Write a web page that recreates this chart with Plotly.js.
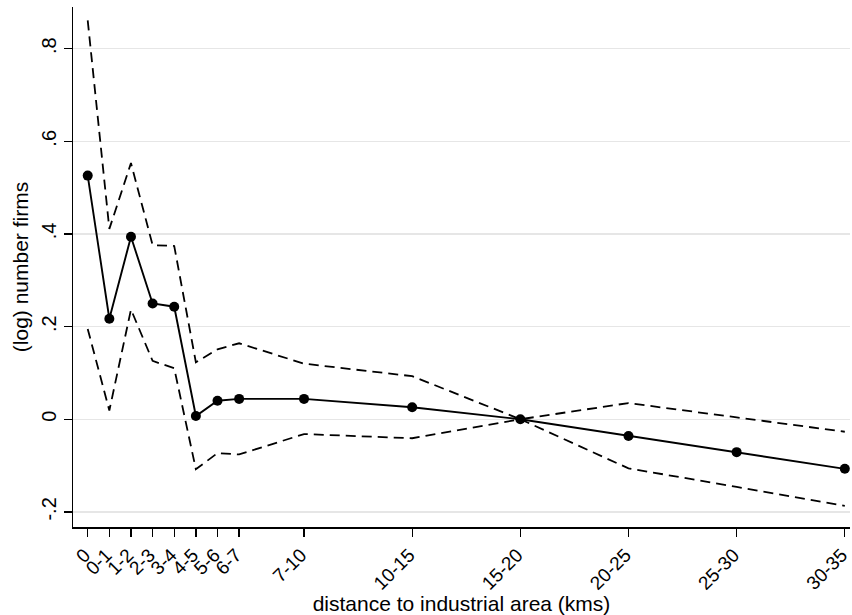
<!DOCTYPE html>
<html>
<head>
<meta charset="utf-8">
<script src="https://cdn.plot.ly/plotly-3.0.1.min.js"></script>
<style>html,body{margin:0;padding:0;background:#fff;}#chart{width:852px;height:615px;}</style>
</head>
<body>
<div id="chart"></div>
<script>
const xPos = [0, 1, 2, 3, 4, 5, 6, 7, 10, 15, 20, 25, 30, 35];
const tickLabels = ["0", "0-1", "1-2", "2-3", "3-4", "4-5", "5-6", "6-7", "7-10", "10-15", "15-20", "20-25", "25-30", "30-35"];
const estimate = [0.526, 0.217, 0.394, 0.250, 0.243, 0.007, 0.040, 0.044, 0.044, 0.026, 0.0, -0.036, -0.071, -0.107];
const upperCI = [0.861, 0.411, 0.553, 0.376, 0.374, 0.123, 0.151, 0.164, 0.120, 0.093, 0.0, 0.035, 0.004, -0.027];
const lowerCI = [0.195, 0.019, 0.237, 0.126, 0.110, -0.108, -0.073, -0.076, -0.032, -0.041, 0.0, -0.106, -0.146, -0.187];
const yTickVals = [-0.2, 0, 0.2, 0.4, 0.6, 0.8];
const yTickText = ["-.2", "0", ".2", ".4", ".6", ".8"];

const font = "Liberation Sans, Arial, Helvetica, sans-serif";
const dashStyle = "10px,6px";

const traces = [
  {x: xPos, y: upperCI, type: "scatter", mode: "lines",
   line: {color: "#000", width: 1.8, dash: dashStyle}, hoverinfo: "skip"},
  {x: xPos, y: lowerCI, type: "scatter", mode: "lines",
   line: {color: "#000", width: 1.8, dash: dashStyle}, hoverinfo: "skip"},
  {x: xPos, y: estimate, type: "scatter", mode: "lines+markers",
   line: {color: "#000", width: 1.9}, marker: {color: "#000", size: 10}}
];

const layout = {
  width: 852, height: 615,
  margin: {l: 73, r: 2, t: 7, b: 88},
  paper_bgcolor: "#fff", plot_bgcolor: "#fff",
  showlegend: false,
  font: {family: font, size: 20, color: "#000"},
  xaxis: {
    range: [-0.68, 35.24],
    tickmode: "array", tickvals: xPos, ticktext: tickLabels,
    tickangle: -45,
    ticklabeloverflow: "allow",
    ticklabelshift: -3,
    ticks: "outside", ticklen: 8, tickwidth: 1.3, tickcolor: "#000",
    showgrid: false, zeroline: false,
    showline: true, linecolor: "#000", linewidth: 1.5,
    tickfont: {family: font, size: 19, color: "#000"},
    title: {text: "distance to industrial area (kms)", font: {family: font, size: 21, color: "#000"}, standoff: 3}
  },
  yaxis: {
    range: [-0.2326, 0.890],
    tickmode: "array", tickvals: yTickVals, ticktext: yTickText,
    tickangle: -90,
    ticks: "outside", ticklen: 8, tickwidth: 1.3, tickcolor: "#000",
    showgrid: true, gridcolor: "#e6e6e6", gridwidth: 1.5,
    zeroline: false,
    showline: true, linecolor: "#000", linewidth: 1.5,
    tickfont: {family: font, size: 20, color: "#000"},
    title: {text: "(log) number firms", font: {family: font, size: 21, color: "#000"}, standoff: 3}
  }
};

Plotly.newPlot("chart", traces, layout, {displayModeBar: false, staticPlot: true});
</script>
</body>
</html>
